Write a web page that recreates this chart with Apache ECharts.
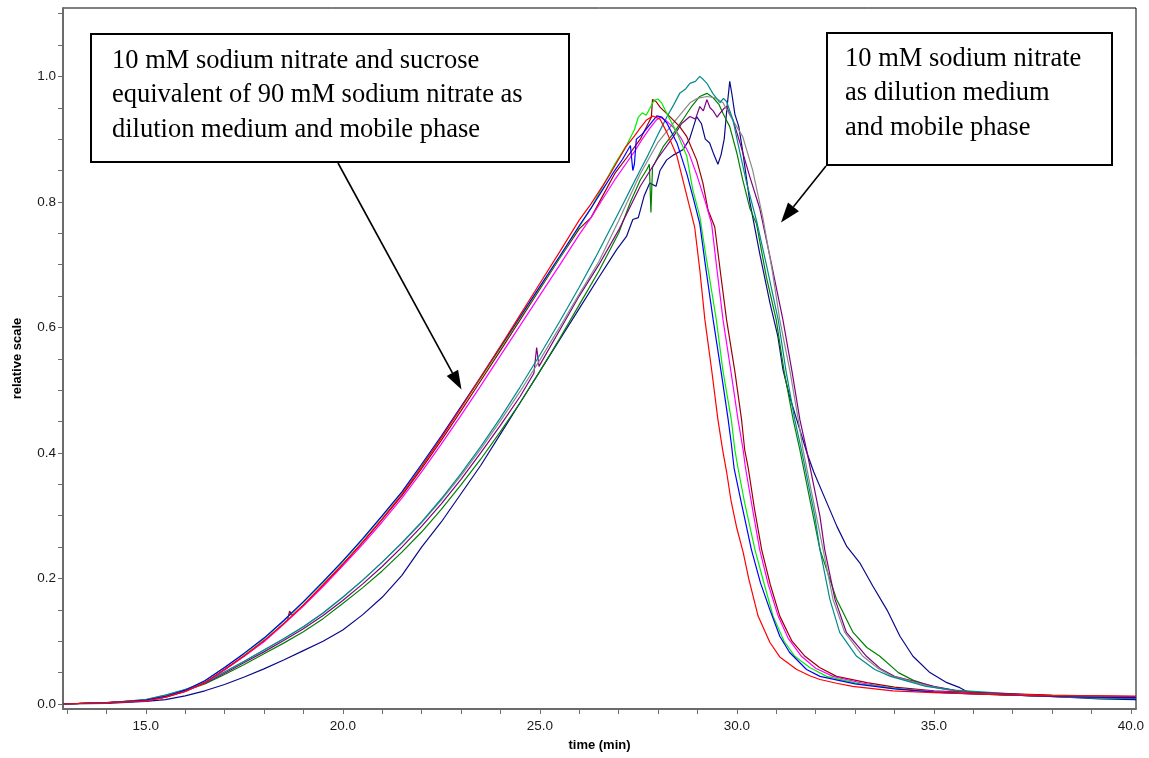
<!DOCTYPE html>
<html>
<head>
<meta charset="utf-8">
<title>Elution profiles</title>
<script src="https://cdn.jsdelivr.net/npm/echarts@6/dist/echarts.min.js"></script>
<style>
  html, body { margin: 0; padding: 0; background: #fff; }
  #chart { width: 1149px; height: 758px; }
</style>
</head>
<body>
<div id="chart"></div>
<script>
// Axis ticks and labels
const xLabelValues = [15, 20, 25, 30, 35, 40];
const xTickValues = [13,14,15,16,17,18,19,20,21,22,23,24,25,26,27,28,29,30,31,32,33,34,35,36,37,38,39,40];
const yLabelValues = [0, 0.2, 0.4, 0.6, 0.8, 1.0];
const yTickValues = [0,0.05,0.1,0.15,0.2,0.25,0.3,0.35,0.4,0.45,0.5,0.55,0.6,0.65,0.7,0.75,0.8,0.85,0.9,0.95,1.0,1.05,1.1];

// Sucrose-containing medium (5 runs): [time (min), relative scale]
const redRun = [[12.9,0],[14,0.002],[15,0.005],[15.5,0.011],[16,0.020],[16.5,0.034],[17,0.055],[17.5,0.077],[18,0.101],[18.5,0.128],[19,0.158],[19.5,0.190],[20,0.223],[20.5,0.258],[21,0.295],[21.5,0.334],[22,0.378],[22.5,0.424],[23,0.472],[23.5,0.521],[24,0.570],[24.5,0.620],[25,0.670],[25.5,0.720],[26,0.771],[26.3,0.797],[26.6,0.826],[26.8,0.846],[27.0,0.868],[27.2,0.889],[27.4,0.905],[27.55,0.918],[27.7,0.93],[27.87,0.937],[28.05,0.932],[28.23,0.91],[28.48,0.873],[28.73,0.81],[28.93,0.76],[29.06,0.692],[29.19,0.612],[29.36,0.533],[29.52,0.453],[29.64,0.405],[29.74,0.37],[29.85,0.325],[30.0,0.28],[30.16,0.242],[30.3,0.2],[30.54,0.14],[30.84,0.098],[31.09,0.075],[31.52,0.055],[31.85,0.045],[32.11,0.039],[32.53,0.033],[32.94,0.028],[33.96,0.021],[35,0.018],[36,0.016],[37,0.014],[38,0.013],[39,0.013],[40.13,0.012]];
const blueRun = [[12.9,0],[14,0.002],[15,0.006],[15.5,0.012],[16,0.022],[16.5,0.037],[17,0.058],[17.5,0.081],[18,0.105],[18.5,0.133],[19,0.163],[19.5,0.195],[20,0.228],[20.5,0.263],[21,0.300],[21.5,0.338],[22,0.382],[22.5,0.427],[23,0.474],[23.5,0.521],[24,0.569],[24.5,0.617],[25,0.665],[25.5,0.713],[26,0.762],[26.3,0.79],[26.6,0.82],[26.9,0.85],[27.1,0.868],[27.3,0.89],[27.36,0.85],[27.4,0.86],[27.45,0.9],[27.6,0.908],[27.75,0.92],[27.97,0.937],[28.1,0.935],[28.23,0.925],[28.48,0.894],[28.73,0.845],[28.9,0.805],[29.06,0.765],[29.2,0.70],[29.4,0.612],[29.6,0.53],[29.78,0.453],[29.86,0.415],[29.93,0.376],[30.1,0.325],[30.37,0.246],[30.6,0.193],[30.84,0.15],[31.09,0.108],[31.34,0.082],[31.77,0.055],[32.11,0.044],[33.0,0.032],[34,0.024],[35,0.019],[36,0.016],[37,0.014],[38,0.012],[39,0.011],[40.13,0.010]];
const limeRun = [[12.9,0],[14,0.002],[15,0.006],[15.5,0.012],[16,0.022],[16.5,0.037],[17,0.058],[17.5,0.080],[18,0.104],[18.5,0.132],[19,0.162],[19.5,0.194],[20,0.227],[20.5,0.262],[21,0.299],[21.5,0.337],[22,0.380],[22.5,0.425],[23,0.472],[23.5,0.519],[24,0.567],[24.5,0.615],[25,0.663],[25.5,0.711],[26,0.760],[26.3,0.79],[26.6,0.825],[26.9,0.86],[27.2,0.89],[27.4,0.915],[27.5,0.935],[27.6,0.942],[27.7,0.938],[27.8,0.95],[27.9,0.962],[28.0,0.964],[28.1,0.957],[28.23,0.94],[28.48,0.91],[28.73,0.873],[28.88,0.82],[29.06,0.777],[29.2,0.72],[29.48,0.612],[29.65,0.53],[29.86,0.453],[29.95,0.405],[30.03,0.376],[30.2,0.32],[30.46,0.246],[30.7,0.19],[30.92,0.14],[31.2,0.1],[31.47,0.076],[31.85,0.058],[32.28,0.044],[33.12,0.032],[34,0.025],[35,0.019],[36,0.016],[37,0.014],[38,0.013],[39,0.012],[40.13,0.011]];
const magentaRun = [[12.9,0],[14,0.002],[15,0.005],[15.5,0.011],[16,0.020],[16.5,0.034],[17,0.054],[17.5,0.076],[18,0.099],[18.5,0.127],[19,0.156],[19.5,0.187],[20,0.220],[20.5,0.254],[21,0.290],[21.5,0.328],[22,0.370],[22.5,0.414],[23,0.460],[23.5,0.507],[24,0.555],[24.5,0.603],[25,0.651],[25.5,0.699],[26,0.748],[26.3,0.775],[26.6,0.805],[26.9,0.835],[27.2,0.862],[27.4,0.88],[27.6,0.9],[27.8,0.918],[27.95,0.93],[28.05,0.935],[28.2,0.93],[28.4,0.918],[28.6,0.9],[28.8,0.875],[29.0,0.84],[29.2,0.8],[29.36,0.765],[29.5,0.69],[29.65,0.612],[29.85,0.53],[30.03,0.453],[30.16,0.405],[30.22,0.376],[30.4,0.31],[30.58,0.246],[30.8,0.19],[31.05,0.14],[31.3,0.105],[31.64,0.076],[32.0,0.057],[32.44,0.044],[33.2,0.033],[34,0.025],[35,0.02],[36,0.017],[37,0.015],[38,0.013],[39,0.012],[40.13,0.011]];
const maroonRun = [[12.9,0],[14,0.002],[15,0.005],[15.5,0.011],[16,0.020],[16.5,0.034],[17,0.055],[17.5,0.077],[18,0.100],[18.5,0.128],[18.6,0.134],[18.65,0.148],[18.72,0.141],[19,0.157],[19.5,0.189],[20,0.222],[20.5,0.257],[21,0.294],[21.5,0.332],[22,0.375],[22.5,0.42],[23,0.467],[23.5,0.515],[24,0.563],[24.5,0.612],[25,0.661],[25.5,0.71],[26,0.757],[26.3,0.775],[26.6,0.81],[26.9,0.845],[27.2,0.87],[27.55,0.9],[27.75,0.925],[27.83,0.935],[27.86,0.963],[27.95,0.96],[28.05,0.951],[28.3,0.936],[28.55,0.92],[28.73,0.904],[28.98,0.867],[29.14,0.83],[29.27,0.787],[29.44,0.76],[29.6,0.68],[29.74,0.612],[29.95,0.53],[30.12,0.453],[30.2,0.405],[30.29,0.376],[30.45,0.31],[30.63,0.246],[30.85,0.19],[31.09,0.14],[31.4,0.1],[31.73,0.076],[32.1,0.058],[32.53,0.044],[33.3,0.034],[34,0.027],[35,0.021],[36,0.018],[37,0.016],[38,0.014],[39,0.013],[40.13,0.012]];

// Sodium nitrate medium (5 runs)
const tealRun = [[12.9,0],[14,0.002],[15,0.007],[15.5,0.014],[16,0.023],[16.5,0.034],[17,0.051],[17.5,0.068],[18,0.086],[18.5,0.104],[19,0.123],[19.5,0.145],[20,0.170],[20.5,0.197],[21,0.226],[21.5,0.257],[22,0.290],[22.5,0.327],[23,0.367],[23.5,0.41],[24,0.456],[24.5,0.505],[25,0.556],[25.5,0.609],[26,0.664],[26.4,0.71],[26.77,0.755],[27.1,0.795],[27.3,0.82],[27.55,0.851],[27.75,0.875],[27.97,0.904],[28.1,0.92],[28.23,0.936],[28.4,0.955],[28.55,0.973],[28.7,0.98],[28.81,0.989],[28.95,0.992],[29.06,1.0],[29.15,0.995],[29.24,0.989],[29.39,0.973],[29.57,0.958],[29.66,0.965],[29.74,0.96],[29.9,0.931],[30.08,0.878],[30.25,0.83],[30.5,0.77],[30.75,0.7],[31.05,0.612],[31.25,0.53],[31.47,0.453],[31.64,0.405],[31.98,0.299],[32.11,0.246],[32.36,0.167],[32.61,0.114],[33.04,0.076],[33.5,0.055],[33.9,0.044],[34.8,0.028],[35.5,0.022],[36.5,0.018],[37.5,0.014],[38.5,0.011],[39.5,0.009],[40.13,0.009]];
const grayRun = [[12.9,0],[14,0.002],[15,0.007],[15.5,0.014],[16,0.023],[16.5,0.035],[17,0.051],[17.5,0.068],[18,0.086],[18.5,0.104],[19,0.123],[19.5,0.145],[20,0.170],[20.5,0.197],[21,0.226],[21.5,0.256],[22,0.289],[22.5,0.325],[23,0.364],[23.5,0.406],[24,0.451],[24.5,0.498],[25,0.548],[25.5,0.6],[26,0.653],[26.5,0.705],[27,0.77],[27.55,0.845],[28.0,0.895],[28.39,0.926],[28.81,0.958],[29.0,0.965],[29.24,0.968],[29.45,0.966],[29.65,0.958],[29.9,0.93],[30.15,0.904],[30.4,0.851],[30.66,0.775],[30.9,0.69],[31.09,0.612],[31.35,0.53],[31.56,0.453],[31.68,0.405],[32.02,0.299],[32.19,0.246],[32.44,0.167],[32.74,0.114],[33.2,0.076],[33.6,0.056],[33.96,0.044],[34.9,0.028],[35.5,0.021],[36.5,0.016],[37.5,0.013],[38.5,0.011],[39.5,0.009],[40.13,0.009]];
const purpleRun = [[12.9,0],[14,0.002],[15,0.006],[15.5,0.013],[16,0.022],[16.5,0.033],[17,0.049],[17.5,0.066],[18,0.083],[18.5,0.101],[19,0.120],[19.5,0.141],[20,0.165],[20.5,0.191],[21,0.219],[21.5,0.250],[22,0.283],[22.5,0.319],[23,0.358],[23.5,0.4],[24,0.444],[24.5,0.49],[24.85,0.527],[24.92,0.568],[24.98,0.538],[25.5,0.595],[26,0.65],[26.5,0.7],[27,0.755],[27.55,0.825],[28.0,0.87],[28.39,0.904],[28.6,0.925],[28.81,0.936],[28.95,0.932],[29.06,0.952],[29.15,0.945],[29.24,0.963],[29.32,0.95],[29.4,0.945],[29.5,0.935],[29.57,0.941],[29.66,0.948],[29.74,0.952],[29.82,0.94],[29.9,0.931],[30.08,0.894],[30.33,0.84],[30.58,0.79],[30.85,0.71],[31.17,0.612],[31.4,0.53],[31.6,0.453],[31.77,0.405],[32.11,0.299],[32.23,0.246],[32.49,0.167],[32.78,0.114],[33.29,0.076],[33.65,0.056],[34.0,0.044],[35.0,0.028],[35.6,0.021],[36.5,0.017],[37.5,0.014],[38.5,0.012],[39.5,0.011],[40.13,0.010]];
const greenRun = [[12.9,0],[14,0.002],[15,0.006],[15.5,0.013],[16,0.021],[16.5,0.032],[17,0.047],[17.5,0.063],[18,0.080],[18.5,0.097],[19,0.115],[19.5,0.136],[20,0.160],[20.5,0.185],[21,0.212],[21.5,0.242],[22,0.274],[22.5,0.310],[23,0.349],[23.5,0.39],[24,0.434],[24.5,0.48],[25,0.53],[25.5,0.582],[26,0.636],[26.5,0.69],[27,0.75],[27.3,0.8],[27.55,0.835],[27.72,0.852],[27.78,0.86],[27.82,0.783],[27.86,0.855],[28.13,0.888],[28.4,0.91],[28.63,0.931],[28.85,0.952],[29.06,0.968],[29.24,0.973],[29.4,0.966],[29.55,0.955],[29.65,0.941],[29.82,0.92],[30.0,0.878],[30.15,0.835],[30.33,0.79],[30.5,0.765],[30.75,0.68],[31.0,0.612],[31.2,0.53],[31.43,0.453],[31.6,0.405],[31.94,0.299],[32.11,0.246],[32.53,0.167],[32.95,0.114],[33.3,0.09],[33.63,0.076],[34.1,0.05],[34.47,0.038],[35.0,0.027],[35.66,0.02],[36.5,0.016],[37.5,0.013],[38.5,0.011],[39.5,0.01],[40.13,0.01]];
const navyRun = [[12.9,0],[14,0.001],[15,0.004],[15.5,0.007],[16,0.013],[16.5,0.021],[17,0.031],[17.5,0.043],[18,0.056],[18.5,0.07],[19,0.085],[19.5,0.1],[20,0.118],[20.5,0.142],[21,0.17],[21.5,0.205],[22,0.25],[22.5,0.29],[23,0.335],[23.5,0.38],[24,0.43],[24.5,0.48],[25,0.53],[25.5,0.58],[26,0.63],[26.5,0.68],[26.95,0.724],[27.2,0.745],[27.36,0.772],[27.5,0.775],[27.65,0.81],[27.79,0.83],[27.95,0.825],[28.05,0.85],[28.22,0.867],[28.4,0.875],[28.63,0.883],[28.8,0.9],[28.98,0.936],[29.1,0.925],[29.2,0.9],[29.31,0.894],[29.42,0.875],[29.52,0.86],[29.6,0.875],[29.68,0.9],[29.75,0.95],[29.82,0.992],[29.88,0.97],[29.95,0.94],[30.05,0.92],[30.15,0.88],[30.33,0.80],[30.58,0.718],[30.84,0.639],[31.04,0.586],[31.17,0.533],[31.34,0.49],[31.52,0.453],[31.78,0.4],[31.95,0.37],[32.18,0.336],[32.54,0.283],[32.79,0.251],[33.12,0.225],[33.45,0.188],[33.81,0.15],[34.14,0.108],[34.47,0.076],[34.9,0.05],[35.33,0.034],[35.66,0.026],[35.84,0.02],[36.68,0.015],[37.95,0.012],[39.22,0.008],[40.13,0.007]];

const runs = [
  { name: 'navy', color: '#0a0a88', data: navyRun },
  { name: 'green', color: '#008000', data: greenRun },
  { name: 'purple', color: '#800080', data: purpleRun },
  { name: 'gray', color: '#8a8a8a', data: grayRun },
  { name: 'teal', color: '#008b8b', data: tealRun },
  { name: 'maroon', color: '#990000', data: maroonRun },
  { name: 'magenta', color: '#ff00ff', data: magentaRun },
  { name: 'lime', color: '#00ee00', data: limeRun },
  { name: 'blue', color: '#0000ff', data: blueRun },
  { name: 'red', color: '#ff0000', data: redRun }
];

// Callout boxes
const noteLeft = ['10 mM sodium nitrate and sucrose', 'equivalent of 90 mM sodium nitrate as', 'dilution medium and mobile phase'];
const noteRight = ['10 mM sodium nitrate', 'as dilution medium', 'and mobile phase'];

function arrow(x1, y1, x2, y2, headLen, headHalf) {
  const dx = x2 - x1, dy = y2 - y1;
  const len = Math.sqrt(dx * dx + dy * dy);
  const ux = dx / len, uy = dy / len;
  const bx = x2 - ux * headLen, by = y2 - uy * headLen;
  const nx = -uy, ny = ux;
  return [
    { type: 'line', shape: { x1: x1, y1: y1, x2: bx, y2: by }, style: { stroke: '#000', lineWidth: 1.6 }, z: 10 },
    { type: 'polygon', shape: { points: [[x2, y2], [bx + nx * headHalf, by + ny * headHalf], [bx - nx * headHalf, by - ny * headHalf]] }, style: { fill: '#000' }, z: 10 }
  ];
}

function noteBox(x, y, w, h, lines, tx, ty0, step) {
  const els = [{ type: 'rect', shape: { x: x, y: y, width: w, height: h }, style: { fill: '#fff', stroke: '#000', lineWidth: 2 }, z: 10 }];
  lines.forEach(function (t, i) {
    els.push({ type: 'text', z: 11, style: { text: t, x: tx, y: ty0 + i * step, fill: '#000', font: '26.5px "Liberation Serif", "Times New Roman", serif', align: 'left', verticalAlign: 'middle' } });
  });
  return els;
}

const graphics = []
  .concat(noteBox(91, 34, 478, 128, noteLeft, 112, 61, 34.3))
  .concat(noteBox(827, 33, 285, 132, noteRight, 845, 59, 34.5))
  .concat(arrow(338, 163, 461.5, 389.5, 19, 6.5))
  .concat(arrow(826, 166, 781, 222.5, 20, 7));

const chart = echarts.init(document.getElementById('chart'), null, { renderer: 'canvas' });
const axisGray = '#6b6b6b';
const labelFont = { color: '#1a1a1a', fontFamily: 'Liberation Sans, Arial, sans-serif', fontSize: 13.5 };

chart.setOption({
  animation: false,
  backgroundColor: '#fff',
  grid: { left: 63, right: 13, top: 8, bottom: 49, show: true, borderColor: '#000', borderWidth: 1, backgroundColor: 'transparent' },
  xAxis: {
    type: 'value', min: 12.9, max: 40.13,
    name: 'time (min)', nameLocation: 'middle', nameGap: 30,
    nameTextStyle: { fontFamily: 'Liberation Sans, Arial, sans-serif', fontWeight: 'bold', fontSize: 13, color: '#000' },
    axisLine: { show: true, onZero: false, lineStyle: { color: axisGray, width: 2 } },
    axisTick: { show: true, customValues: xTickValues, length: 5, lineStyle: { color: axisGray, width: 1 } },
    axisLabel: Object.assign({ customValues: xLabelValues, margin: 10, formatter: function (v) { return v.toFixed(1); } }, labelFont),
    splitLine: { show: false }
  },
  yAxis: {
    type: 'value', min: -0.008, max: 1.109,
    name: 'relative scale', nameLocation: 'middle', nameGap: 39, nameRotate: 90,
    nameTextStyle: { fontFamily: 'Liberation Sans, Arial, sans-serif', fontWeight: 'bold', fontSize: 13, color: '#000' },
    axisLine: { show: true, onZero: false, lineStyle: { color: axisGray, width: 2 } },
    axisTick: { show: true, customValues: yTickValues, length: 5, lineStyle: { color: axisGray, width: 1 } },
    axisLabel: Object.assign({ customValues: yLabelValues, margin: 7, formatter: function (v) { return v.toFixed(1); } }, labelFont),
    splitLine: { show: false }
  },
  series: runs.map(function (r) {
    return {
      name: r.name, type: 'line', data: r.data, showSymbol: false, symbol: 'none',
      lineStyle: { color: r.color, width: 1.2 }, itemStyle: { color: r.color },
      clip: true, silent: true
    };
  }),
  graphic: graphics
});
</script>
</body>
</html>
